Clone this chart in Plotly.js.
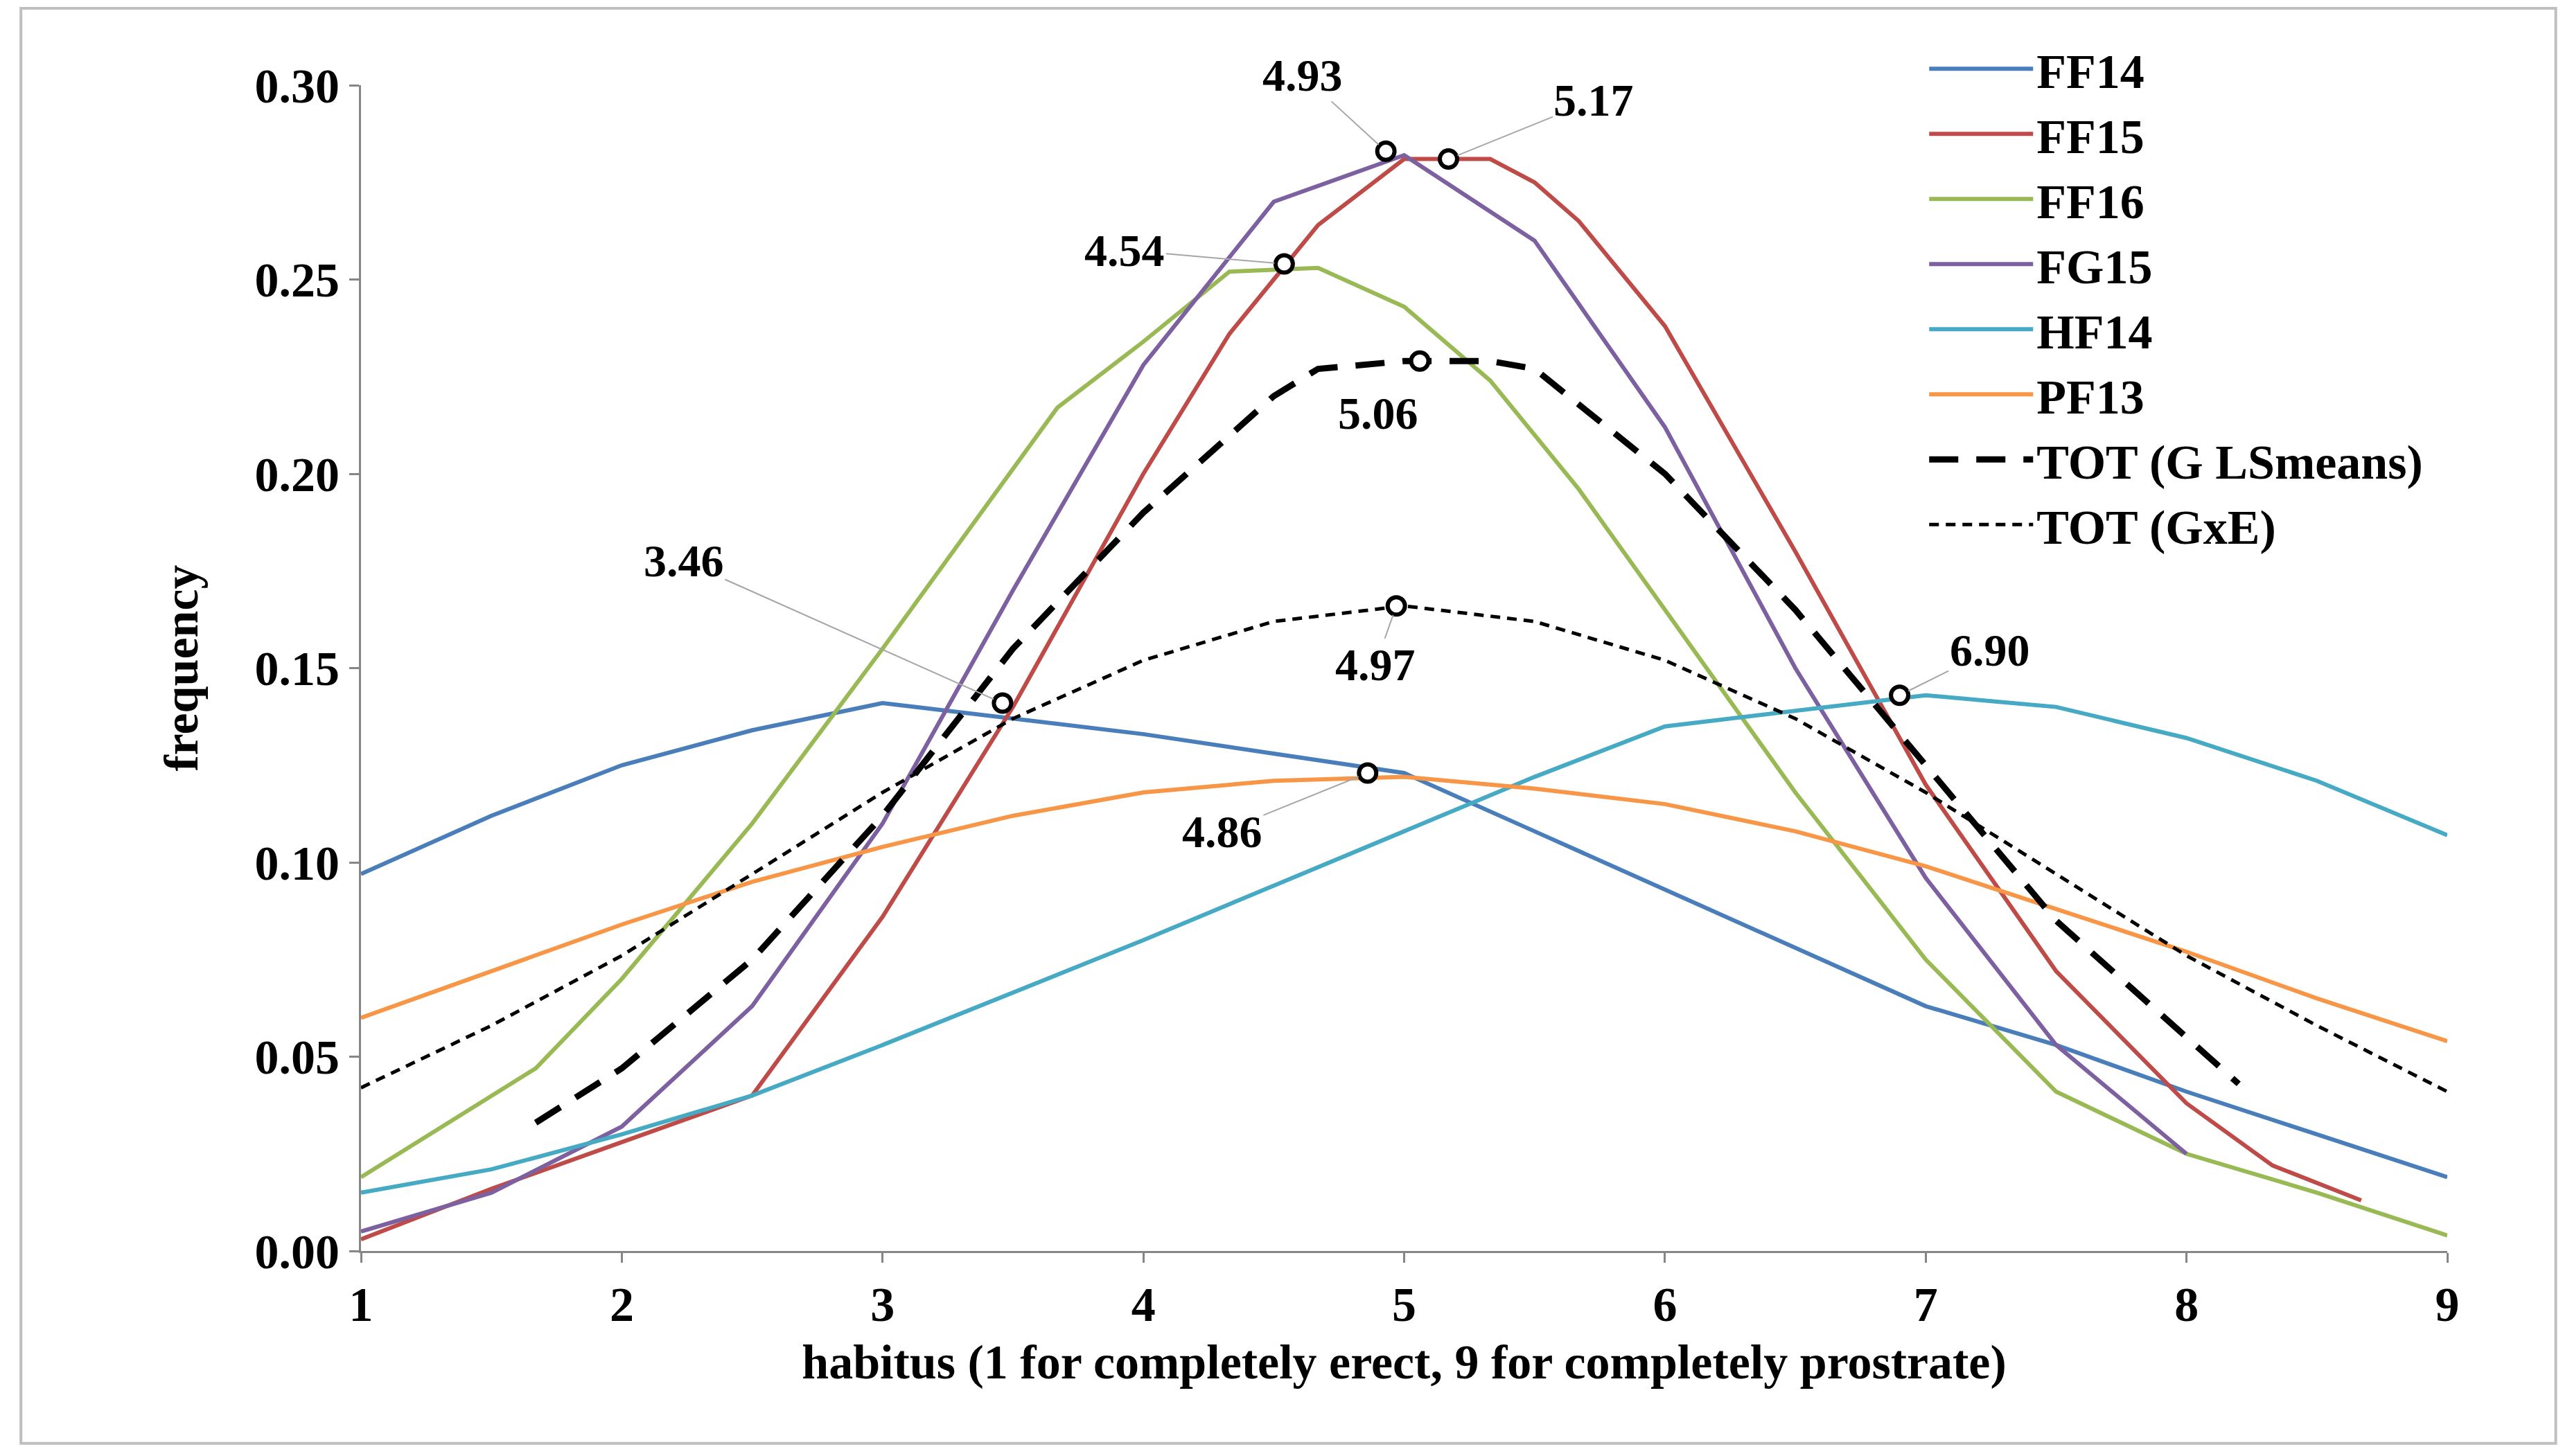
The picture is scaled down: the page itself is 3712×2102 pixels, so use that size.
<!DOCTYPE html>
<html>
<head>
<meta charset="utf-8">
<script src="https://cdn.plot.ly/plotly-3.0.1.min.js"></script>
<style>html,body{margin:0;padding:0;background:#fff}#plot{width:3712px;height:2102px}</style>
</head>
<body>
<div id="plot"></div>
<script>
// series
const ff14X = [1,1.5,2,2.5,3,3.5,4,4.5,5,5.5,6,6.5,7,7.5,8,8.5,9];
const ff14Y = [0.097,0.112,0.125,0.134,0.141,0.137,0.133,0.128,0.123,0.108,0.093,0.078,0.063,0.053,0.041,0.030,0.019];
const ff15X = [1,1.5,2,2.5,3,3.5,4,4.33,4.5,4.67,5,5.17,5.33,5.5,5.67,6,6.5,7,7.5,8,8.33,8.67];
const ff15Y = [0.003,0.016,0.028,0.040,0.086,0.14,0.20,0.236,0.25,0.264,0.281,0.281,0.281,0.275,0.265,0.238,0.18,0.12,0.072,0.038,0.022,0.013];
const ff16X = [1,1.67,2,2.5,3,3.67,4,4.33,4.67,5,5.33,5.67,6,6.5,7,7.5,8,8.5,9];
const ff16Y = [0.019,0.047,0.07,0.11,0.155,0.217,0.234,0.252,0.253,0.243,0.224,0.196,0.165,0.118,0.075,0.041,0.025,0.015,0.004];
const fg15X = [1,1.5,2,2.5,3,3.5,4,4.5,5,5.5,6,6.5,7,7.5,8];
const fg15Y = [0.005,0.015,0.032,0.063,0.11,0.17,0.228,0.27,0.282,0.26,0.212,0.15,0.096,0.053,0.025];
const hf14X = [1,1.5,2,2.5,3,4,5,5.5,6,7,7.5,8,8.5,9];
const hf14Y = [0.015,0.021,0.030,0.040,0.053,0.08,0.108,0.122,0.135,0.143,0.14,0.132,0.121,0.107];
const pf13X = [1,1.5,2,2.5,3,3.5,4,4.5,5,5.5,6,6.5,7,7.5,8,8.5,9];
const pf13Y = [0.06,0.072,0.084,0.095,0.104,0.112,0.118,0.121,0.122,0.119,0.115,0.108,0.099,0.088,0.077,0.065,0.054];
const totGX = [1.67,2,2.5,3,3.5,4,4.5,4.67,5,5.33,5.5,6,6.5,7,7.5,8,8.2];
const totGY = [0.033,0.047,0.075,0.112,0.155,0.19,0.22,0.227,0.229,0.229,0.227,0.2,0.165,0.125,0.085,0.055,0.043];
const totEX = [1,1.5,2,2.5,3,3.5,4,4.5,5,5.5,6,6.5,7,7.5,8,8.5,9];
const totEY = [0.042,0.058,0.076,0.097,0.118,0.137,0.152,0.162,0.166,0.162,0.152,0.137,0.118,0.097,0.076,0.058,0.041];

// peak markers and their labels
const peakX = [4.93,5.17,4.54,5.06,3.46,4.97,4.86,6.90];
const peakY = [0.283,0.281,0.254,0.229,0.141,0.166,0.123,0.143];
const peakLabels = ["4.93","5.17","4.54","5.06","3.46","4.97","4.86","6.90"];
// label offsets in pixels (ax, ay)
const labelOffsets = [[-120,-110],[210,-85],[-230,-20],[-60,75],[-460,-205],[-30,85],[-210,85],[130,-65]];
const leaderLine = [true,true,true,false,true,true,true,true];

const font = "Liberation Serif, Times New Roman, serif";

function line(x, y, name, color, width, dash) {
    return {x: x, y: y, name: name, type: "scatter", mode: "lines",
        line: {color: color, width: width, dash: dash || "solid"}};
}

const traces = [
    line(ff14X, ff14Y, "FF14", "#4a7ebb", 6),
    line(ff15X, ff15Y, "FF15", "#be4b48", 6),
    line(ff16X, ff16Y, "FF16", "#98b954", 6),
    line(fg15X, fg15Y, "FG15", "#7d60a0", 6),
    line(hf14X, hf14Y, "HF14", "#46aac5", 6),
    line(pf13X, pf13Y, "PF13", "#f79646", 6),
    line(totGX, totGY, "TOT (G LSmeans)", "#000", 9, "42px,26px"),
    line(totEX, totEY, "TOT (GxE)", "#000", 5, "14px,10px"),
    {x: peakX, y: peakY, type: "scatter", mode: "markers", showlegend: false,
        marker: {symbol: "circle", size: 25, color: "#fff", line: {color: "#000", width: 6}}}
];

const annotations = peakLabels.map((t, i) => ({
    x: peakX[i], y: peakY[i], text: "<b>" + t + "</b>",
    showarrow: true, arrowhead: 0, arrowwidth: 2, arrowcolor: leaderLine[i] ? "#a6a6a6" : "rgba(0,0,0,0)",
    ax: labelOffsets[i][0], ay: labelOffsets[i][1], standoff: 14,
    font: {family: font, size: 66, color: "#000"}
}));

const layout = {
    width: 3712, height: 2102,
    margin: {l: 521, r: 180, t: 123, b: 296},
    paper_bgcolor: "#fff", plot_bgcolor: "#fff",
    font: {family: font, size: 70, color: "#000"},
    showlegend: true,
    legend: {x: 0.75, y: 1.045, xanchor: "left", yanchor: "top",
        font: {family: font, size: 70, color: "#000", weight: "bold"},
        tracegroupgap: 0, itemwidth: 150, bgcolor: "rgba(0,0,0,0)"},
    xaxis: {range: [1, 9], dtick: 1, showgrid: false, zeroline: false,
        showline: true, linecolor: "#868686", linewidth: 3,
        ticks: "outside", ticklen: 14, tickwidth: 3, tickcolor: "#868686",
        tickfont: {family: font, size: 70, weight: "bold"},
        title: {text: "<b>habitus (1 for completely erect, 9 for completely prostrate)</b>",
            font: {family: font, size: 70}, standoff: 20}},
    yaxis: {range: [0, 0.3], dtick: 0.05, tickformat: ".2f", showgrid: false, zeroline: false,
        showline: true, linecolor: "#868686", linewidth: 3,
        ticks: "outside", ticklen: 14, tickwidth: 3, tickcolor: "#868686",
        tickfont: {family: font, size: 70, weight: "bold"},
        title: {text: "<b>frequency</b>", font: {family: font, size: 70}, standoff: 60}},
    annotations: annotations,
    shapes: [{type: "rect", xref: "paper", yref: "paper", x0: -0.163, x1: 1.052, y0: -0.165, y1: 1.066,
        line: {color: "#bfbfbf", width: 4}}]
};

Plotly.newPlot("plot", traces, layout, {displayModeBar: false});
</script>
</body>
</html>
